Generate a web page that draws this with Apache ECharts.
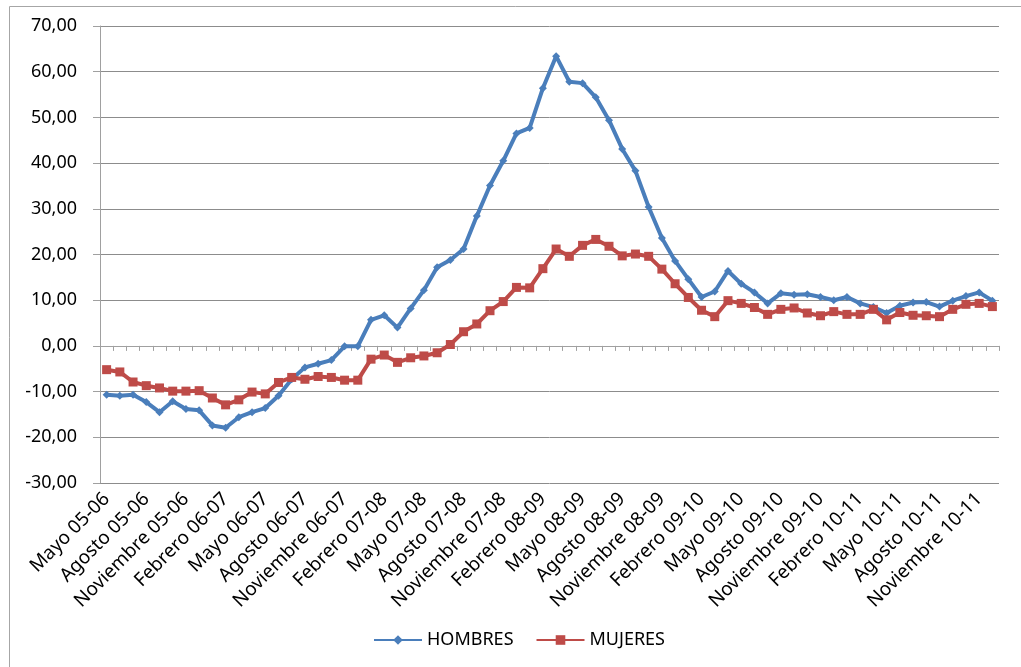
<!DOCTYPE html>
<html>
<head>
<meta charset="utf-8">
<title>HOMBRES / MUJERES</title>
<script src="https://cdn.jsdelivr.net/npm/echarts@6/dist/echarts.min.js"></script>
<style>
  html, body { margin: 0; padding: 0; background: #fff; }
  #chart { width: 1021px; height: 667px; }
</style>
</head>
<body>
<div id="chart"></div>
<script>
// meses de la serie (mayo 05-06 ... diciembre 10-11)
const meses = ["Mayo", "Junio", "Julio", "Agosto", "Septiembre", "Octubre", "Noviembre",
  "Diciembre", "Enero", "Febrero", "Marzo", "Abril"];
const temporadas = ["05-06", "06-07", "07-08", "08-09", "09-10", "10-11"];

// categorias: una por mes
const categorias = [];
for (let t = 0; t < temporadas.length; t++) {
  for (let m = 0; m < meses.length; m++) {
    // el año de la etiqueta cambia en enero
    const idx = m >= 8 ? t + 1 : t;
    if (idx < temporadas.length) categorias.push(meses[m] + " " + temporadas[idx]);
  }
}
const categoriasUsadas = categorias.slice(0, 68);

const hombres = [
  -10.7, -10.9, -10.7, -12.3, -14.5, -12.1, -13.8, -14.1, -17.4, -17.9,
  -15.6, -14.5, -13.6, -10.9, -7.3, -4.7, -3.9, -3.1, -0.1, -0.1,
  5.7, 6.7, 4.0, 8.2, 12.2, 17.2, 18.8, 21.2, 28.4, 35.1,
  40.5, 46.5, 47.7, 56.4, 63.4, 57.8, 57.5, 54.4, 49.4, 43.1,
  38.3, 30.4, 23.6, 18.6, 14.6, 10.7, 11.9, 16.4, 13.6, 11.7,
  9.3, 11.5, 11.2, 11.3, 10.7, 10.0, 10.7, 9.3, 8.5, 7.2,
  8.8, 9.5, 9.6, 8.6, 9.9, 10.9, 11.7, 9.9
];

const mujeres = [
  -5.2, -5.7, -7.9, -8.7, -9.2, -9.9, -9.9, -9.8, -11.4, -12.9,
  -11.8, -10.1, -10.5, -8.0, -6.9, -7.3, -6.7, -6.9, -7.5, -7.5,
  -2.9, -2.0, -3.6, -2.6, -2.2, -1.5, 0.3, 3.1, 4.8, 7.7,
  9.7, 12.8, 12.7, 16.9, 21.2, 19.6, 22.0, 23.3, 21.8, 19.7,
  20.1, 19.6, 16.8, 13.6, 10.6, 7.8, 6.4, 9.9, 9.3, 8.4,
  6.9, 8.0, 8.3, 7.2, 6.6, 7.5, 6.9, 6.9, 8.0, 5.7,
  7.3, 6.7, 6.6, 6.4, 8.0, 9.1, 9.3, 8.6
];

const chart = echarts.init(document.getElementById("chart"));
const fuente = "'Noto Sans', sans-serif";

chart.setOption({
  animation: false,
  textStyle: { fontFamily: fuente },
  graphic: [{
    type: "rect",
    shape: { x: 9.5, y: 6.5, width: 1100, height: 800 },
    style: { fill: "none", stroke: "#a6a6a6", lineWidth: 1 },
    silent: true
  }],
  grid: { left: 100, top: 26, right: 22, bottom: 184 },
  legend: {
    left: 368,
    top: 626,
    itemWidth: 48,
    itemHeight: 12,
    itemGap: 22,
    textStyle: { fontSize: 18, color: "#000", fontFamily: fuente },
    data: ["HOMBRES", "MUJERES"]
  },
  xAxis: {
    type: "category",
    data: categoriasUsadas,
    boundaryGap: true,
    axisLine: { lineStyle: { color: "#a0a0a0", width: 1 } },
    axisTick: { show: true, interval: 0, length: 5, lineStyle: { color: "#a0a0a0" } },
    axisLabel: {
      interval: 2,
      rotate: 45,
      fontSize: 19,
      color: "#000",
      margin: 13,
      fontFamily: fuente
    },
    splitLine: { show: false }
  },
  yAxis: {
    type: "value",
    min: -30,
    max: 70,
    interval: 10,
    axisLine: { show: true, lineStyle: { color: "#a0a0a0" } },
    axisTick: { show: true, length: 7, lineStyle: { color: "#a0a0a0" } },
    axisLabel: {
      fontSize: 18,
      color: "#000",
      margin: 23,
      fontFamily: fuente,
      formatter: v => v.toFixed(2).replace(".", ",")
    },
    splitLine: { lineStyle: { color: "#8c8c8c", width: 1 } }
  },
  series: [
    {
      name: "HOMBRES",
      type: "line",
      data: hombres,
      symbol: "diamond",
      symbolSize: 8,
      showAllSymbol: true,
      lineStyle: { color: "#4a7ebb", width: 4 },
      itemStyle: { color: "#4a7ebb" },
      z: 2
    },
    {
      name: "MUJERES",
      type: "line",
      data: mujeres,
      symbol: "rect",
      symbolSize: 9,
      showAllSymbol: true,
      lineStyle: { color: "#be4b48", width: 4 },
      itemStyle: { color: "#be4b48" },
      z: 3
    }
  ]
});
</script>
</body>
</html>
